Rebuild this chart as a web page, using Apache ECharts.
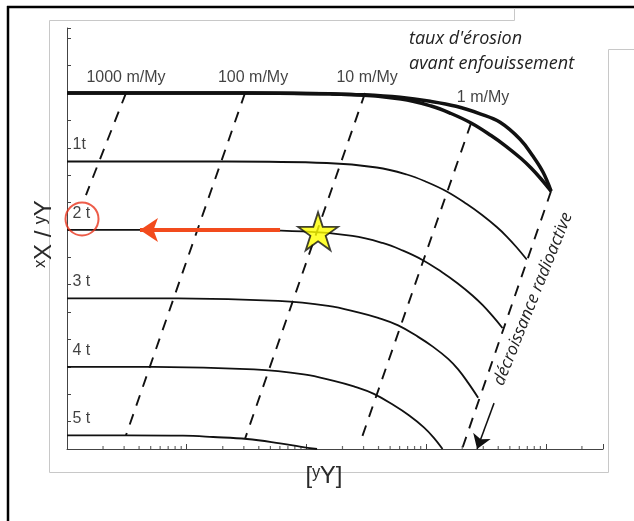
<!DOCTYPE html>
<html lang="fr">
<head>
<meta charset="utf-8">
<title>Datation par enfouissement</title>
<script src="https://cdn.jsdelivr.net/npm/echarts@6.0.0/dist/echarts.min.js"></script>
<style>
  html, body { margin: 0; padding: 0; background: #ffffff; }
  #chart { width: 634px; height: 521px; }
</style>
</head>
<body>
<div id="chart"></div>
<script>
// Courbes : [concentration yY (axe log), rapport xX/yY (unités de t)]
const curve0Exposure = [[1, 6.0], [30, 6.0], [157.5, 5.988], [303, 5.974], [605, 5.937], [1078, 5.879],
    [1777, 5.806], [2820, 5.696], [4143, 5.572], [6088, 5.324], [7816, 5.075], [9476, 4.842], [11050, 4.568]];
const curve0Steady = [[1, 6.0], [34.4, 6.0], [236, 5.978], [617, 5.912], [1099, 5.810], [1614, 5.701],
    [2372, 5.562], [3485, 5.379], [4651, 5.222], [6206, 5.043], [7521, 4.904], [9120, 4.744], [11050, 4.568]];
const burial1t = [[1, 5.0], [21.6, 5.0], [147.9, 4.978], [386.6, 4.912], [688.6, 4.810], [1011, 4.701],
    [1486, 4.562], [2184, 4.379], [2914, 4.222], [3889, 4.043], [4713, 3.904], [5715, 3.744], [6924, 3.568]];
const burial2t = [[1, 4.0], [13.5, 4.0], [92.65, 3.978], [242.2, 3.912], [431.5, 3.810], [633.7, 3.701],
    [931.2, 3.562], [1368, 3.379], [1826, 3.222], [2436, 3.043], [2953, 2.904], [3580, 2.744], [4338, 2.568]];
const burial3t = [[1, 3.0], [8.46, 3.0], [58.06, 2.963], [151.8, 2.890], [270.4, 2.796], [397.0, 2.715],
    [583.5, 2.606], [857.3, 2.438], [1144, 2.292], [1527, 2.116], [1850, 1.963], [2244, 1.766], [2718, 1.549]];
const burial4t = [[1, 2.0], [5.3, 2.0], [36.4, 1.963], [95.1, 1.890], [169.5, 1.796], [248.9, 1.715],
    [365.8, 1.606], [537.4, 1.438], [717.2, 1.292], [957, 1.116], [1160, 0.963], [1371, 0.8]];
const burial5t = [[1, 1.0], [3.17, 1.0], [9.31, 0.994], [16.6, 0.975], [31.9, 0.946], [60.2, 0.883],
    [88.4, 0.836], [122.6, 0.8]];

// Étiquettes des isochrones
const burialLabels = ['1t', '2 t', '3 t', '4 t', '5 t'];
const burialLevels = [5, 4, 3, 2, 1];

// Droites d'iso-taux d'érosion
const rateNames = ['1000 m/My', '100 m/My', '10 m/My', '1 m/My'];
const rate1000 = [[3.11, 6.0], [1.44, 4.51]];
const rate100 = [[30.7, 6.0], [3.11, 1.0]];
const rate10 = [[308.8, 6.0], [30.7, 0.95]];
const rate1 = [[2372, 5.56], [291.4, 0.975]];
const rateZero = [[11050, 4.568], [1995, 0.8]];

// Graduations secondaires de l'axe log
const xMinorTicks = [2, 3, 4, 5, 6, 7, 8, 9, 20, 30, 40, 50, 60, 70, 80, 90,
    200, 300, 400, 500, 600, 700, 800, 900, 2000, 3000, 4000, 5000, 6000, 7000, 8000, 9000, 20000];

// Annotations
const starPoint = [125, 3.98];
const circlePoint = [1.335, 4.16];
const redArrow = [[60.2, 4.0], [4.07, 4.0]];
const decayArrow = [[3690, 1.47], [2662, 0.8]];

document.addEventListener('DOMContentLoaded', function() {
    const chart = echarts.init(document.getElementById('chart'), null, { renderer: 'canvas' });
    const ink = '#111111';
    const yMin = 0.8;
    const starPath = 'path://M50 0 L61.23 34.55 L97.55 34.55 L68.17 55.9 L79.39 90.45 L50 69.1 L20.61 90.45 L31.83 55.9 L2.45 34.55 L38.77 34.55 Z';

    function curve(data, width) {
        return {
            type: 'line', data: data, symbol: 'none', smooth: 0.4,
            lineStyle: { color: ink, width: width }, z: 3, silent: true
        };
    }
    function dashed(data) {
        return {
            type: 'line', data: data, symbol: 'none',
            lineStyle: { color: ink, width: 1.9, type: [11, 9] }, z: 2, silent: true
        };
    }

    const rateAnchors = [rate1000[0], rate100[0], rate10[0], rate1[0]];
    const rateOffsets = [[0, 0], [8, 0], [2, 0], [12, -10]];

    const series = [
        curve(curve0Exposure, 3.5),
        curve(curve0Steady, 3.5),
        curve(burial1t, 1.8),
        curve(burial2t, 1.8),
        curve(burial3t, 1.8),
        curve(burial4t, 1.8),
        curve(burial5t, 1.8),
        dashed(rate1000),
        dashed(rate100),
        dashed(rate10),
        dashed(rate1),
        dashed(rateZero),
        {
            type: 'scatter', silent: true, symbol: 'rect', symbolSize: [1.2, 3], symbolOffset: [0, -1.5],
            itemStyle: { color: '#444' },
            data: xMinorTicks.map(v => [v, yMin])
        },
        {
            type: 'scatter', silent: true, symbolSize: 1, itemStyle: { color: 'transparent' },
            data: burialLevels.map((lv, i) => ({ value: [1, lv], name: burialLabels[i] })),
            label: {
                show: true, formatter: '{b}', position: [6, -24],
                color: ink, fontSize: 16, fontFamily: 'Liberation Sans, Arial, sans-serif'
            }
        },
        {
            type: 'scatter', silent: true, symbolSize: 1, itemStyle: { color: 'transparent' },
            data: rateAnchors.map((p, i) => ({ value: p, name: rateNames[i], label: { offset: rateOffsets[i] } })),
            label: {
                show: true, formatter: '{b}', position: 'top', distance: 7,
                color: ink, fontSize: 16, fontFamily: 'Liberation Sans, Arial, sans-serif'
            }
        },
        {
            type: 'lines', coordinateSystem: 'cartesian2d', silent: true, z: 6,
            symbol: ['none', 'arrow'], symbolSize: 18,
            lineStyle: { color: '#f24b1d', width: 4, opacity: 1, curveness: 0 },
            data: [{ coords: redArrow }]
        },
        {
            type: 'lines', coordinateSystem: 'cartesian2d', silent: true, z: 6,
            symbol: ['none', 'arrow'], symbolSize: 14,
            lineStyle: { color: ink, width: 1.5, opacity: 1, curveness: 0 },
            data: [{ coords: decayArrow }]
        },
        {
            type: 'scatter', silent: true, z: 7, symbol: 'circle', symbolSize: 33,
            itemStyle: { color: 'transparent', borderColor: '#e8331c', borderWidth: 2 },
            data: [circlePoint]
        },
        {
            type: 'scatter', silent: true, z: 8, symbol: starPath, symbolSize: [40, 38],
            itemStyle: { color: '#ffff00', borderColor: ink, borderWidth: 1.8 },
            data: [starPoint]
        }
    ];

    const option = {
        animation: false,
        backgroundColor: '#ffffff',
        grid: { left: 67, right: 31, top: 28, bottom: 72 },
        xAxis: {
            type: 'log', logBase: 10, min: 1, max: 30000,
            axisLine: { onZero: false, lineStyle: { color: '#444', width: 1 } },
            axisTick: { inside: true, length: 5, lineStyle: { color: '#444' } },
            axisLabel: { show: false },
            splitLine: { show: false }
        },
        yAxis: {
            type: 'value', min: yMin, max: 6.95, interval: 0.4,
            axisLine: { show: true, onZero: false, lineStyle: { color: '#444', width: 1 } },
            axisTick: { show: true, inside: true, length: 4, lineStyle: { color: '#444' } },
            axisLabel: { show: false },
            splitLine: { show: false }
        },
        graphic: { elements: [
            // cadres de la capture
            { type: 'line', silent: true, shape: { x1: 8, y1: 6, x2: 8, y2: 521 }, style: { stroke: '#000', lineWidth: 2.5 } },
            { type: 'line', silent: true, shape: { x1: 7, y1: 7, x2: 634, y2: 7 }, style: { stroke: '#000', lineWidth: 2.5 } },
            {
                type: 'polyline', silent: true,
                shape: { points: [[514.5, 8], [514.5, 20.5], [49.5, 20.5], [49.5, 472.5], [608.5, 472.5], [608.5, 49.5], [634, 49.5]] },
                style: { stroke: '#c8c8c8', lineWidth: 1, fill: null }
            },
            // titres des axes
            {
                type: 'text', silent: true, x: 44, y: 234, rotation: Math.PI / 2,
                style: { text: 'ˣX / ʸY', fontSize: 24, fontFamily: 'Liberation Sans, Arial, sans-serif', fill: '#2a2a2a', align: 'center', verticalAlign: 'middle' }
            },
            {
                type: 'text', silent: true, x: 324, y: 476,
                style: { text: '[ʸY]', fontSize: 24, fontFamily: 'Liberation Sans, Arial, sans-serif', fill: '#2a2a2a', align: 'center', verticalAlign: 'middle' }
            },
            // annotations en italique
            {
                type: 'text', silent: true, x: 409, y: 26,
                style: { text: "taux d'érosion\navant enfouissement", fontSize: 18, fontStyle: 'italic', fontFamily: 'Open Sans, Noto Sans, sans-serif', lineHeight: 25, fill: '#222', align: 'left', verticalAlign: 'top' }
            },
            {
                type: 'text', silent: true, x: 533, y: 299, rotation: 68 * Math.PI / 180,
                style: { text: 'décroissance radioactive', fontSize: 17, fontStyle: 'italic', fontFamily: 'Open Sans, Noto Sans, sans-serif', fill: '#222', align: 'center', verticalAlign: 'middle' }
            }
        ] },
        series: series
    };

    chart.setOption(option);
});
</script>
</body>
</html>
